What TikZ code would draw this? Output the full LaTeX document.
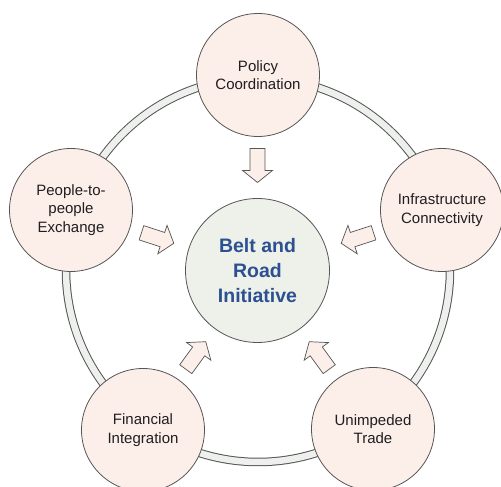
\documentclass[tikz,border=0pt]{standalone}
\usepackage{fontspec}
\setmainfont{Liberation Sans}
\definecolor{satfill}{RGB}{252,238,233}
\definecolor{cenfill}{RGB}{238,241,233}
\definecolor{ringfill}{RGB}{238,240,238}
\definecolor{edgecol}{RGB}{85,85,85}
\definecolor{titleblue}{RGB}{44,80,145}
\begin{document}
\begin{tikzpicture}[x=1pt,y=1pt,
  sat/.style={circle, draw=edgecol, line width=0.8pt, fill=satfill,
    minimum size=123pt, inner sep=0pt, align=center,
    font=\fontsize{15}{18.5}\selectfont, text=black!88},
  hub/.style={circle, draw=edgecol, line width=0.8pt, fill=cenfill,
    minimum size=144pt, inner sep=0pt, align=center,
    font=\bfseries\fontsize{19.5}{25}\selectfont, text=titleblue},
  blockarrow/.style={draw=edgecol, fill=satfill, line width=0.7pt, line join=miter}
]
\useasboundingbox (0,0) rectangle (501,487);
\coordinate (c) at (257.5,216.5);
\coordinate (rc) at (258,217);
% ring
\draw[edgecol, line width=8.5pt] (rc) circle[radius=192pt];
\draw[ringfill, line width=6.5pt] (rc) circle[radius=192pt];
% satellites
\node[sat] (policy) at (258,412) {Policy\\Coordination};
\node[sat] (infra) at (442,277) {Infrastructure\\Connectivity};
\node[sat] (trade) at (373,58) {Unimpeded\\Trade};
\node[sat] (finance) at (143,57) {Financial\\Integration};
\node[sat] (people) at (71,277) {People-to-\\people\\Exchange};
% hub
\node[hub] (bri) at (c) {Belt and\\Road\\Initiative};
% block arrows pointing to the hub
\foreach \ang in {90,18,-54,234,162}{
  \draw[blockarrow, shift={(c)}, rotate=\ang]
    (122,-7.5) -- (100,-7.5) -- (100,-15) -- (88,0) -- (100,15)
    -- (100,7.5) -- (122,7.5) -- cycle;
}
\end{tikzpicture}
\end{document}
